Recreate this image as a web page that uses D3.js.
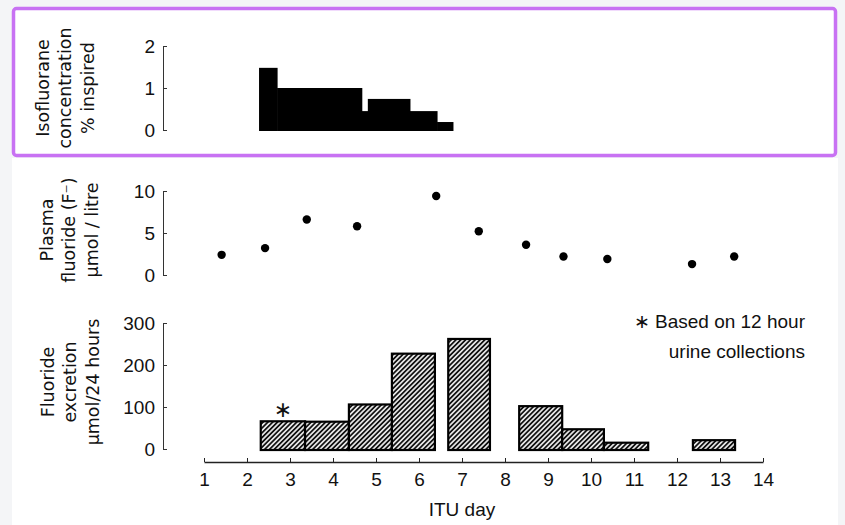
<!DOCTYPE html>
<html><head><meta charset="utf-8">
<script src="https://cdn.jsdelivr.net/npm/d3@7"></script>
<style>
html,body{margin:0;padding:0;background:#f4f5f7;}
svg{display:block;}
text{fill:#111;}
</style></head>
<body><svg id="c" width="845" height="525"></svg>
<script>
// ---- data ----
const xTicks = [1,2,3,4,5,6,7,8,9,10,11,12,13,14];
const isoEdges = [2.28, 2.70, 4.67, 4.81, 5.79, 6.42, 6.79];
const isoValues = [1.48, 1.0, 0.45, 0.74, 0.45, 0.19];
const isoTicks = [0,1,2];
const plasmaDays = [1.41, 2.42, 3.39, 4.56, 6.40, 7.39, 8.49, 9.36, 10.38, 12.35, 13.33];
const plasmaValues = [2.4, 3.2, 6.6, 5.8, 9.4, 5.2, 3.6, 2.2, 1.9, 1.3, 2.2];
const plasmaTicks = [0,5,10];
const excStart = [2.32, 3.35, 4.37, 5.37, 6.68, 8.33, 9.33, 10.30, 12.37];
const excEnd   = [3.35, 4.37, 5.37, 6.37, 7.65, 9.33, 10.30, 11.33, 13.35];
const excValues = [66, 65, 106, 227, 262, 102, 47, 15, 21];
const excStarred = [0];
const excTicks = [0,100,200,300];
const noteLines = ["\u2217 Based on 12 hour", "urine collections"];

const svg = d3.select("#c");
const FONT = "'Liberation Sans Narrow','Liberation Sans',Arial,sans-serif";
const TFONT = "'DejaVu Sans',sans-serif";

// backgrounds
svg.append("rect").attr("x",12).attr("y",158).attr("width",826).attr("height",367).attr("fill","#fff");
svg.append("rect").attr("x",13.5).attr("y",8.5).attr("width",822).attr("height",147)
  .attr("rx",3).attr("fill","#fff").attr("stroke","#c872f3").attr("stroke-width",3.5);

// hatch pattern
const defs = svg.append("defs");
const pat = defs.append("pattern").attr("id","hatch").attr("patternUnits","userSpaceOnUse")
  .attr("width",3.4).attr("height",3.4).attr("patternTransform","rotate(45)");
pat.append("rect").attr("width",3.4).attr("height",3.4).attr("fill","#fff");
pat.append("line").attr("x1",1.7).attr("y1",0).attr("x2",1.7).attr("y2",3.4)
  .attr("stroke","#111").attr("stroke-width",1.9);

const x = d3.scaleLinear().domain([1,14]).range([204,763]);
const yIso = d3.scaleLinear().domain([0,2]).range([130,46]);
const yPl = d3.scaleLinear().domain([0,10]).range([275,191]);
const yEx = d3.scaleLinear().domain([0,300]).range([449,323]);

function yAxis(scale, ticks){
  const g = svg.append("g").attr("transform","translate(163,0)")
    .call(d3.axisLeft(scale).tickValues(ticks).tickFormat(d3.format("d"))
      .tickSizeInner(-4).tickSizeOuter(0).tickPadding(8));
  g.select(".domain").attr("stroke","#333").attr("stroke-width",1);
  g.selectAll(".tick line").attr("stroke","#333");
  g.selectAll("text").attr("font-family",FONT).attr("font-size",19).attr("fill","#111");
  return g;
}
yAxis(yIso, isoTicks);
yAxis(yPl, plasmaTicks);
yAxis(yEx, excTicks);

// x axis
const gx = svg.append("g").attr("transform","translate(0,462)")
  .call(d3.axisBottom(x).tickValues(xTicks).tickFormat(d3.format("d"))
    .tickSizeInner(-4).tickSizeOuter(0).tickPadding(11));
gx.select(".domain").attr("stroke","#222").attr("stroke-width",1.3);
gx.selectAll(".tick line").attr("stroke","#222");
gx.selectAll("text").attr("font-family",FONT).attr("font-size",19).attr("fill","#111");
svg.append("text").attr("x",x(7)).attr("y",516).attr("text-anchor","middle")
  .attr("font-family",FONT).attr("font-size",19).text("ITU day");

// isoflurane bars (solid black steps)
svg.append("g").selectAll("rect").data(isoValues).join("rect")
  .attr("x",(d,i)=>x(isoEdges[i]))
  .attr("width",(d,i)=>x(isoEdges[i+1])-x(isoEdges[i])+0.5)
  .attr("y",d=>yIso(d))
  .attr("height",d=>yIso(0)-yIso(d)+1)
  .attr("fill","#000");

// plasma points
svg.append("g").selectAll("circle").data(plasmaValues).join("circle")
  .attr("cx",(d,i)=>x(plasmaDays[i])).attr("cy",d=>yPl(d)).attr("r",4.2).attr("fill","#000");

// excretion bars
svg.append("g").selectAll("rect").data(excValues).join("rect")
  .attr("x",(d,i)=>x(excStart[i]))
  .attr("width",(d,i)=>x(excEnd[i])-x(excStart[i]))
  .attr("y",d=>yEx(d))
  .attr("height",d=>yEx(0)-yEx(d)+1)
  .attr("fill","url(#hatch)").attr("stroke","#000").attr("stroke-width",2.2);

// asterisk
svg.append("g").selectAll("text").data(excStarred).join("text")
  .attr("x",i=>x((excStart[i]+excEnd[i])/2))
  .attr("y",i=>yEx(excValues[i])-4)
  .attr("text-anchor","middle").attr("font-family",TFONT).attr("font-size",22)
  .text("\u2217");

// note
svg.append("text").attr("x",805).attr("y",328).attr("text-anchor","end")
  .attr("font-family",FONT).attr("font-size",19).text(noteLines[0]);
svg.append("text").attr("x",805).attr("y",358).attr("text-anchor","end")
  .attr("font-family",FONT).attr("font-size",19).text(noteLines[1]);

// y titles
function title(lines, cx, cy){
  const t = svg.append("text").attr("transform",`translate(${cx},${cy}) rotate(-90)`)
    .attr("text-anchor","middle").attr("font-family",TFONT).attr("font-size",17.5);
  lines.forEach((l,i)=>{
    t.append("tspan").attr("x",0).attr("y",(i-(lines.length-1)/2)*22.5+6).text(l);
  });
}
title(["Isofluorane","concentration","% inspired"], 65, 88);
title(["Plasma","fluoride (F\u207B)","\u03BCmol / litre"], 69, 230);
title(["Fluoride","excretion","\u03BCmol/24 hours"], 70, 382);
</script></body></html>
